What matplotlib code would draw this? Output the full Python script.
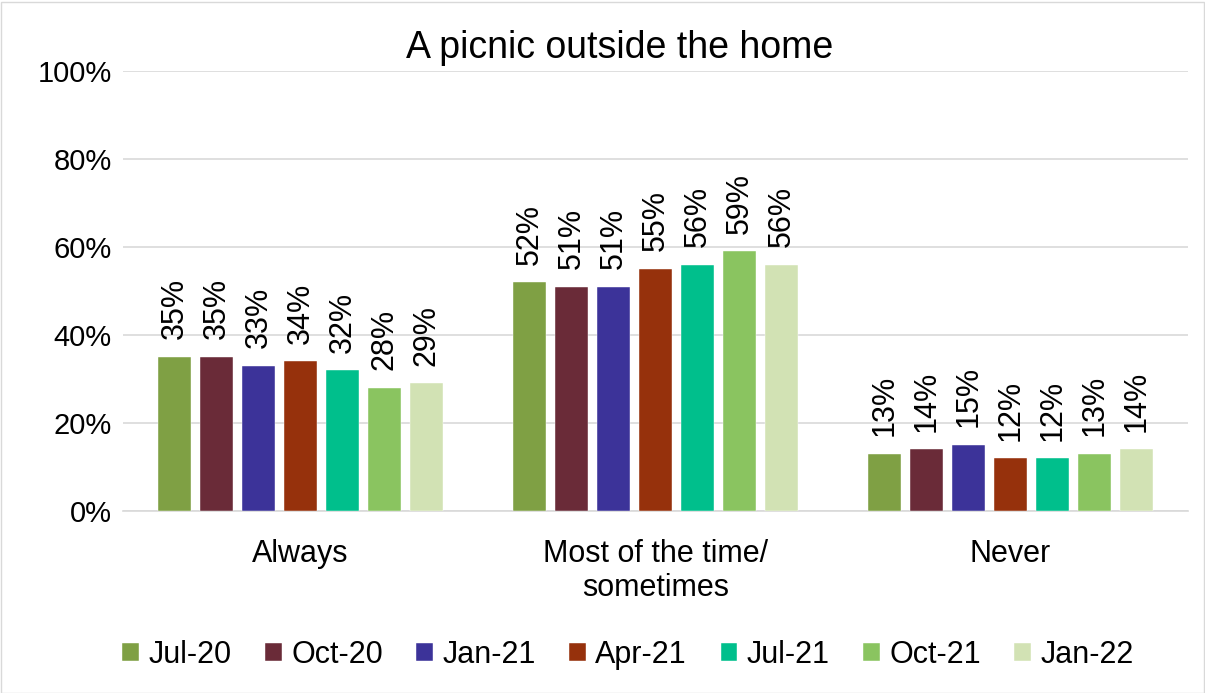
import numpy as np
import matplotlib.pyplot as plt
from matplotlib.patches import Rectangle

plt.rcParams['font.family'] = ['Liberation Sans', 'DejaVu Sans']

categories = ['Always', 'Most of the time/\nsometimes', 'Never']
waves = ['Jul-20', 'Oct-20', 'Jan-21', 'Apr-21', 'Jul-21', 'Oct-21', 'Jan-22']
colors = ['#7FA044', '#6A2B38', '#3C3399', '#96310C', '#00BF8C', '#8AC460', '#D2E2B4']

jul20 = [35, 52, 13]
oct20 = [35, 51, 14]
jan21 = [33, 51, 15]
apr21 = [34, 55, 12]
jul21 = [32, 56, 12]
oct21 = [28, 59, 13]
jan22 = [29, 56, 14]
values = [jul20, oct20, jan21, apr21, jul21, oct21, jan22]

fig = plt.figure(figsize=(12.05, 6.93), dpi=100)
ax = fig.add_axes([123/1205, 1-511/693, (1188-123)/1205, (511-71)/693])

# outer border
fig.patches.append(Rectangle((0.5/1205, 0.5/693), 1-2/1205, 1-2/693, transform=fig.transFigure,
                             fill=False, edgecolor='#D9D9D9', linewidth=1))

x = np.arange(len(categories))
step = 42/355
width = 33/355
for i, (name, vals) in enumerate(zip(waves, values)):
    pos = x + (i - 3) * step
    bars = ax.bar(pos, vals, width, color=colors[i], label=name, zorder=3,
                  edgecolor='white', linewidth=0.3)
    for b, v in zip(bars, vals):
        ax.text(b.get_x() + b.get_width()/2, v + 4.0, f'{v}%', rotation=90,
                ha='center', va='bottom', fontsize=22)

ax.set_xlim(-0.5, 2.5)
ax.set_ylim(0, 100)
ax.set_yticks(range(0, 101, 20))
ax.set_yticklabels([f'{t}%' for t in range(0, 101, 20)], fontsize=21)
ax.set_xticks(x)
ax.set_xticklabels(categories, fontsize=22)
ax.tick_params(axis='y', length=0, pad=8)
ax.tick_params(axis='x', length=0, pad=20)
ax.yaxis.grid(True, color='#D9D9D9', linewidth=1.2, zorder=0)
for s in ['top', 'right', 'left']:
    ax.spines[s].set_visible(False)
ax.spines['bottom'].set_color('#D9D9D9')
ax.spines['bottom'].set_linewidth(1.2)

fig.text(620/1205, 1-48/693, 'A picnic outside the home', ha='center', va='center', fontsize=27)

fig.legend(loc='center', bbox_to_anchor=(628/1205, 1-655/693), ncol=7, frameon=False,
           fontsize=22, handlelength=0.55, handleheight=0.55, handletextpad=0.3, columnspacing=1.1)

fig.savefig('out.png', dpi=100)
